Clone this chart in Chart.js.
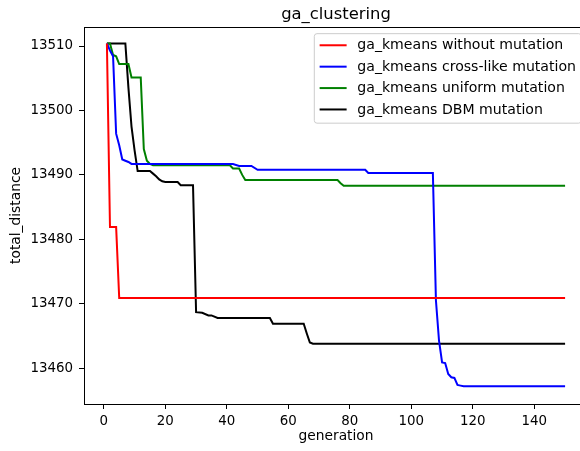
<!DOCTYPE html>
<html><head><meta charset="utf-8">
<script src="https://cdn.jsdelivr.net/npm/chart.js@4.4.1/dist/chart.umd.min.js"></script>
<style>
html,body{margin:0;padding:0;background:#fff;overflow:hidden;width:580px;height:451px;}
#wrap{position:relative;width:600px;height:451px;}
</style></head><body>
<div id="wrap"><canvas id="c" width="600" height="451"></canvas></div>
<script>
const chartTitle = 'ga_clustering';
const xLabel = 'generation';
const yLabel = 'total_distance';
const seriesNames = ['ga_kmeans without mutation','ga_kmeans cross-like mutation','ga_kmeans uniform mutation','ga_kmeans DBM mutation'];
const seriesColors = ['#ff0000','#0000ff','#008000','#000000'];
const xTicks = [0,20,40,60,80,100,120,140];
const yTicks = [13460,13470,13480,13490,13500,13510];

// breakpoints (generation, total_distance)
const redX = [1,2,4,5,150];
const redY = [13510.4,13481.9,13481.9,13470.9,13470.9];

const blueX = [1,2,3,4,5,6,7,8,9,42,44,48,50,85,86,107,108,109,110,111,112,113,114,115,116,117,150];
const blueY = [13510.4,13509.3,13508.4,13496.4,13494.6,13492.4,13492.2,13492.0,13491.7,13491.7,13491.4,13491.4,13490.8,13490.8,13490.3,13490.3,13470.5,13464.3,13460.9,13460.8,13459.1,13458.6,13458.5,13457.4,13457.3,13457.2,13457.2];

const greenX = [1,2,3,4,5,8,9,12,13,14,15,16,41,42,44,45,46,76,77,78,150];
const greenY = [13510.4,13510.4,13508.6,13508.4,13507.2,13507.2,13505.1,13505.1,13494.0,13492.2,13491.7,13491.5,13491.5,13491.0,13491.0,13490.0,13489.2,13489.2,13488.7,13488.3,13488.3];

const blackX = [1,7,8,9,10,11,15,16,17,18,19,20,24,25,29,30,32,34,35,37,54,55,65,66,67,68,150];
const blackY = [13510.4,13510.4,13503.5,13497.5,13493.8,13490.6,13490.6,13490.2,13489.8,13489.3,13489.0,13488.9,13488.9,13488.4,13488.4,13468.7,13468.6,13468.2,13468.2,13467.8,13467.8,13466.9,13466.9,13465.4,13464.0,13463.8,13463.8];

const seriesX = [redX, blueX, greenX, blackX];
const seriesY = [redY, blueY, greenY, blackY];

const FONT = 'DejaVu Sans';

const datasets = seriesNames.map((name, k) => ({
  label: name,
  data: seriesX[k].map((x, i) => ({x: x, y: seriesY[k][i]})),
  borderColor: seriesColors[k],
  backgroundColor: seriesColors[k],
  borderWidth: 2,
  pointRadius: 0,
  tension: 0,
  fill: false
}));

const decor = {
  id: 'decor',
  afterDraw(chart) {
    const ctx = chart.ctx;
    const a = chart.chartArea;
    ctx.save();
    // top & right spines
    ctx.strokeStyle = '#000';
    ctx.lineWidth = 1;
    ctx.beginPath();
    ctx.moveTo(Math.round(a.left) + 0.5, Math.round(a.top) + 0.5);
    ctx.lineTo(Math.round(a.right) + 0.5, Math.round(a.top) + 0.5);
    ctx.lineTo(Math.round(a.right) + 0.5, Math.round(a.bottom) + 0.5);
    ctx.stroke();
    // title
    ctx.fillStyle = '#000';
    ctx.font = '16.4px "' + FONT + '"';
    ctx.textAlign = 'center';
    ctx.textBaseline = 'alphabetic';
    ctx.fillText(chartTitle, (a.left + a.right) / 2, 18.5);
    // legend
    const fs = 14.1;
    ctx.font = fs + 'px "' + FONT + '"';
    let tw = 0;
    chart.data.datasets.forEach(d => { tw = Math.max(tw, ctx.measureText(d.label).width); });
    const pad = 5.33, handle = 27, gap = 10.7;
    const w = pad + handle + gap + tw + pad;
    const h = 89.5;
    const right = a.right - 6.67;
    const left = right - w;
    const top = a.top + 6.67;
    const r = 2.7;
    ctx.beginPath();
    ctx.moveTo(left + r, top);
    ctx.lineTo(right - r, top);
    ctx.arcTo(right, top, right, top + r, r);
    ctx.lineTo(right, top + h - r);
    ctx.arcTo(right, top + h, right - r, top + h, r);
    ctx.lineTo(left + r, top + h);
    ctx.arcTo(left, top + h, left, top + h - r, r);
    ctx.lineTo(left, top + r);
    ctx.arcTo(left, top, left + r, top, r);
    ctx.closePath();
    ctx.fillStyle = 'rgba(255,255,255,0.8)';
    ctx.fill();
    ctx.strokeStyle = '#cccccc';
    ctx.lineWidth = 1;
    ctx.stroke();
    ctx.textAlign = 'left';
    ctx.textBaseline = 'middle';
    chart.data.datasets.forEach((d, i) => {
      const y = top + 11.6 + i * 21.4;
      ctx.strokeStyle = d.borderColor;
      ctx.lineWidth = 2;
      ctx.beginPath();
      ctx.moveTo(left + pad, y);
      ctx.lineTo(left + pad + handle, y);
      ctx.stroke();
      ctx.fillStyle = '#000';
      ctx.fillText(d.label, left + pad + handle + gap, y + 0.5);
    });
    ctx.restore();
  }
};

const tickFont = {family: FONT, size: 13.4};
const labelFont = {family: FONT, size: 13.8};
const gridOpts = {display: true, drawOnChartArea: false, drawTicks: true, tickLength: 5, color: '#000', lineWidth: 1};

new Chart(document.getElementById('c'), {
  type: 'line',
  data: {datasets: datasets},
  options: {
    responsive: false,
    animation: false,
    devicePixelRatio: 1,
    layout: {padding: {top: 27, right: 12, left: 0, bottom: 0}},
    plugins: {legend: {display: false}, title: {display: false}, tooltip: {enabled: false}},
    scales: {
      x: {
        type: 'linear',
        min: -6.45, max: 157.45,
        afterBuildTicks: s => { s.ticks = xTicks.map(v => ({value: v})); },
        afterFit: s => { s.height = 47; },
        ticks: {font: tickFont, color: '#000', padding: 4, maxRotation: 0, autoSkip: false, callback: v => String(v)},
        grid: gridOpts,
        border: {display: true, color: '#000', width: 1},
        title: {display: true, text: xLabel, font: labelFont, color: '#000', padding: {top: 0, bottom: 6}}
      },
      y: {
        type: 'linear',
        min: 13454.45, max: 13512.95,
        afterBuildTicks: s => { s.ticks = yTicks.map(v => ({value: v})); },
        afterFit: s => { s.width = 84; },
        ticks: {font: tickFont, color: '#000', padding: 6, autoSkip: false, callback: v => String(v)},
        grid: gridOpts,
        border: {display: true, color: '#000', width: 1},
        title: {display: true, text: yLabel, font: labelFont, color: '#000', padding: {top: 8, bottom: 0}}
      }
    }
  },
  plugins: [decor]
});
</script>
</body></html>
